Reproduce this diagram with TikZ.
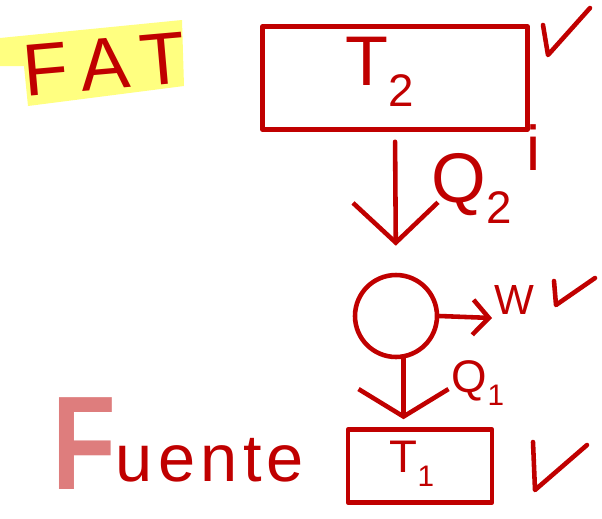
\documentclass[tikz,border=0pt]{standalone}
\usepackage{fontspec}
\setmainfont{Liberation Sans}
\usepackage{xcolor}
\usepackage{tikz}
\usetikzlibrary{positioning,arrows.meta}

\definecolor{pen}{RGB}{192,0,0}
\definecolor{marker}{RGB}{255,255,128}
\definecolor{pinkmark}{RGB}{222,125,125}
\newcommand{\lowsub}[1]{\raisebox{-0.3em}{\scalebox{0.65}{#1}}}

\begin{document}
\begin{tikzpicture}[x=0.02cm,y=-0.02cm, pen, line width=2.6pt, line cap=round, line join=round,
	tank/.style={draw, rectangle, inner sep=0pt},
	flowtwo/.style={-{Straight Barb[length=0.8cm,width=1.7cm]}},
	flowone/.style={-{Straight Barb[length=0.55cm,width=1.8cm]}},
	floww/.style={-{Straight Barb[length=0.32cm,width=0.7cm]}}]
\useasboundingbox (0,0) rectangle (602,518);

% highlighter
\fill[marker] (0,38) -- (182,20) -- (184,86) -- (28,106) -- (24,66) -- (0,66) -- cycle;
\node[rotate=5, font=\fontsize{42}{42}\selectfont\addfontfeature{LetterSpace=22}](fat) at (104,64) {FAT};

\node[tank, minimum width=5.3cm, minimum height=2.06cm](tank2) at (395,78) {};
\node[font=\fontsize{40}{40}\selectfont](t2) at (380,72) {T\lowsub{2}};

\node[draw, circle, minimum size=1.64cm, inner sep=0pt](turb) at (396,316) {};

\node[tank, minimum width=2.88cm, minimum height=1.46cm](tank1) at (420,466) {};
\node[font=\fontsize{26}{26}\selectfont](t1) at (412,464) {T\lowsub{1}};

\draw[flowtwo, shorten <=0.2cm, shorten >=0.54cm] (tank2.south) -- (turb.north);
\node[font=\fontsize{40}{40}\selectfont](q2) at (486,174) {Q\lowsub{2}\hspace{0.2em}\raisebox{0.45em}{\scalebox{0.9}{i}}};

\coordinate (wend) at (492,318);
\draw[floww] (turb.east) -- (wend);
\node[font=\fontsize{24}{24}\selectfont](w) at (514,300) {W};

\draw[flowone, shorten >=0.16cm] (turb.-80) -- (turb.-80 |- tank1.north);
\node[font=\fontsize{26}{26}\selectfont](q1) at (478,383) {Q\lowsub{1}};

% checks
\draw (543,25) -- (548,55) -- (590,8);
\draw (554,281) -- (556,305) -- (595,278);
\draw (533,442) -- (535,490) -- (587,445);

\node[anchor=base west, font=\fontsize{38}{38}\selectfont\addfontfeature{LetterSpace=8}](fuente) at (44,481)
	{{\color{pinkmark}\bfseries\fontsize{76}{76}\selectfont\addfontfeature{FakeStretch=0.78}\raisebox{-0.16cm}{F}}uente};

\end{tikzpicture}
\end{document}
